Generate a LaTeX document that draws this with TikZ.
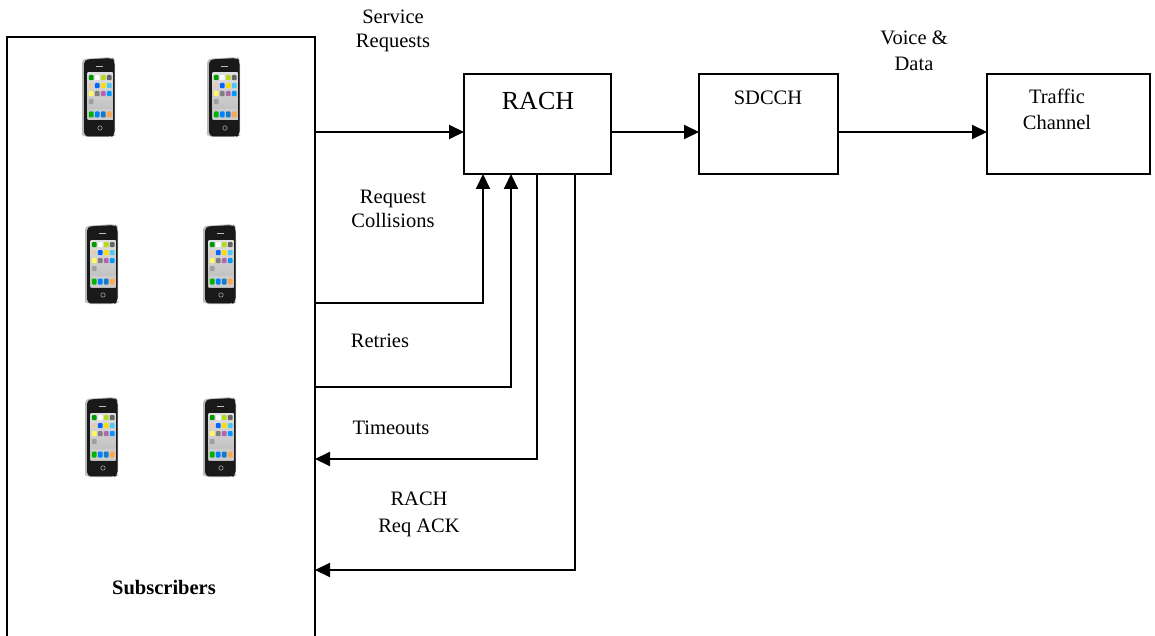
\documentclass[tikz,border=0pt]{standalone}
\usepackage{fontspec}
\setmainfont{Liberation Serif}
\usetikzlibrary{arrows.meta}
\begin{document}
\begin{tikzpicture}[x=1pt,y=-1pt,
  box/.style={draw,line width=1.3pt,inner sep=0pt,outer sep=0pt,anchor=north west},
  conn/.style={line width=2pt,-{Triangle[length=15pt,width=14pt]}},
  lbl/.style={font=\fontsize{20.5}{25}\selectfont,anchor=base,inner sep=0pt},
  phone/.pic={
    \fill[gray!55, rounded corners=4pt] (0,2) -- (30,0) -- (33,3) -- (33,78) -- (30,80) -- (1,80) -- (0,77) -- cycle;
    \fill[black!90, rounded corners=4pt] (2.2,2.6) -- (30,1) -- (32.6,4) -- (32.6,78) -- (30,79.4) -- (2.2,79.4) -- cycle;
    \shade[top color=gray!25, bottom color=gray!55] (5.5,16) rectangle (30.5,63);
    \foreach \c/\r/\col in {0/0/green!60!black, 1/0/white, 2/0/yellow!70!green, 3/0/black!60,
        0/1/brown!40, 1/1/blue!60!cyan, 2/1/yellow!80!orange, 3/1/cyan!70,
        0/2/yellow!60, 1/2/black!50, 2/2/violet!60, 3/2/blue!40!cyan, 0/3/gray!75}
      \fill[\col, rounded corners=1pt] ({6.8+\c*6},{18+\r*8}) rectangle ++(4.8,5.2);
    \fill[gray!40] (5.5,52) rectangle (30.5,63);
    \foreach \c/\col in {0/green!70!black, 1/blue!50!cyan, 2/cyan!60!blue, 3/orange!70}
      \fill[\col, rounded corners=1pt] ({6.8+\c*6},54.5) rectangle ++(4.8,6);
    \draw[gray!70, line width=0.6pt] (18,71) circle (2.2);
    \fill[gray!50] (14,9) rectangle (21,10.2);
  }]
\useasboundingbox (0,0) rectangle (1155,636);

% boxes
\node[box,minimum width=308pt,minimum height=600pt] (sub) at (7,37) {};
\node[box,minimum width=147pt,minimum height=100pt] (rach) at (464,74) {};
\node[box,minimum width=139pt,minimum height=100pt] (sdcch) at (699,74) {};
\node[box,minimum width=163pt,minimum height=100pt] (tch) at (987,74) {};

% box texts
\node[lbl,font=\fontsize{26}{30}\selectfont] (trach) at (538,110) {RACH};
\node[lbl] (tsdcch) at (768,105) {SDCCH};
\node[lbl] (ttch1) at (1057,104) {Traffic};
\node[lbl] (ttch2) at (1057,130) {Channel};
\node[lbl,font=\fontsize{20.5}{25}\selectfont\bfseries] (tsub) at (164,594) {Subscribers};

% phones
\pic (p1) at (82,57) {phone};
\pic (p2) at (207,57) {phone};
\pic (p3) at (85,224) {phone};
\pic (p4) at (203,224) {phone};
\pic (p5) at (85,397) {phone};
\pic (p6) at (203,397) {phone};

% connectors
\draw[conn] (sub.east |- 0,132) -- ([yshift=-8pt]rach.west);
\draw[conn] ([yshift=-8pt]rach.east) -- ([yshift=-8pt]sdcch.west);
\draw[conn] ([yshift=-8pt]sdcch.east) -- ([yshift=-8pt]tch.west);
\draw[conn] (sub.east |- 0,303) -| ([xshift=19pt]rach.south west);
\draw[conn] (sub.east |- 0,387) -| ([xshift=47pt]rach.south west);
\draw[conn] ([xshift=73pt]rach.south west) |- (sub.east |- 0,459);
\draw[conn] ([xshift=111pt]rach.south west) |- (sub.east |- 0,570);

% connector labels
\node[lbl] (lsr1) at (393,24) {Service};
\node[lbl] (lsr2) at (393,48) {Requests};
\node[lbl] (lrc1) at (393,204) {Request};
\node[lbl] (lrc2) at (393,227) {Collisions};
\node[lbl] (lret) at (380,347) {Retries};
\node[lbl] (ltim) at (391,434) {Timeouts};
\node[lbl] (lack1) at (419,505) {RACH};
\node[lbl] (lack2) at (419,532) {Req ACK};
\node[lbl] (lvd1) at (914,45) {Voice \&};
\node[lbl] (lvd2) at (914,71) {Data};
\end{tikzpicture}
\end{document}
